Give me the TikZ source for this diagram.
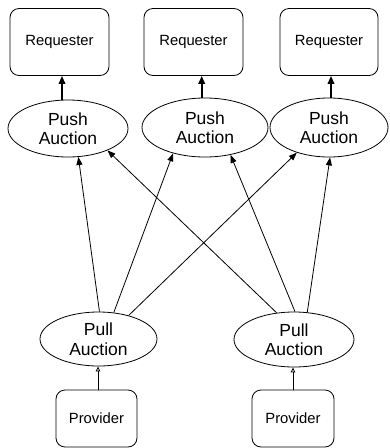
\documentclass[tikz,border=0pt]{standalone}
\usepackage{fontspec}
\setmainfont{Liberation Sans}
\usetikzlibrary{arrows.meta,shapes.geometric}
\begin{document}
\begin{tikzpicture}[x=1pt,y=-1pt,
  box/.style={draw,rounded corners=9pt,line width=0.8pt,inner sep=0pt,font=\fontsize{14.8}{17}\selectfont},
  oval/.style={draw,ellipse,line width=0.8pt,inner sep=0pt,align=center,font=\fontsize{17.5}{19.5}\selectfont},
  thick arrow/.style={line width=1.8pt,-{Triangle[length=8pt,width=6.5pt]}},
  link/.style={line width=0.8pt,-{Triangle[length=8pt,width=6pt]}},
  feed/.style={line width=0.8pt,-{Triangle[open,length=5pt,width=4.5pt]}}]
\useasboundingbox (0,0) rectangle (390,448);
% requesters
\node[box,minimum width=99pt,minimum height=67pt] (r1) at (59.5,42) {Requester};
\node[box,minimum width=99pt,minimum height=67pt] (r2) at (193.5,42) {Requester};
\node[box,minimum width=98pt,minimum height=67pt] (r3) at (329,42) {Requester};
% push auctions
\node[oval,minimum width=120pt,minimum height=57pt] (p1) at (68,128.5) {Push\\Auction};
\node[oval,minimum width=126pt,minimum height=59pt] (p2) at (205,127.5) {Push\\Auction};
\node[oval,minimum width=118pt,minimum height=59pt] (p3) at (329,127.5) {Push\\Auction};
% pull auctions
\node[oval,minimum width=117pt,minimum height=54pt] (q1) at (98.5,339) {Pull\\Auction};
\node[oval,minimum width=120pt,minimum height=55pt] (q2) at (294,339.5) {Pull\\Auction};
% providers
\node[box,minimum width=81pt,minimum height=57pt] (v1) at (96.5,418.5) {Provider};
\node[box,minimum width=82pt,minimum height=57pt] (v2) at (293,418.5) {Provider};
% connector end points
\coordinate (p1t) at (62,100);
\coordinate (p2t) at (201.7,98);
\coordinate (p3t) at (331,98);
% connectors
\draw[thick arrow] (p1t) -- (p1t |- r1.south);
\draw[thick arrow] (p2t) -- (p2t |- r2.south);
\draw[thick arrow] (p3t) -- (p3t |- r3.south);
\draw[link] (q1.88) -- (p1.-70);
\draw[link] (q1.60) -- (p2.-141);
\draw[link] (q1.38) -- (p3.-142);
\draw[link] (q2.123) -- (p1.-29);
\draw[link] (q2.88) -- (p2.-47);
\draw[link] (q2.64) -- (p3.-88);
\draw[feed] (v1.north) ++(1.5,0) coordinate (v1t) (v1t) -- (q1.south -| v1t);
\draw[feed] (v2.north) -- (q2.south -| v2.north);
\end{tikzpicture}
\end{document}
